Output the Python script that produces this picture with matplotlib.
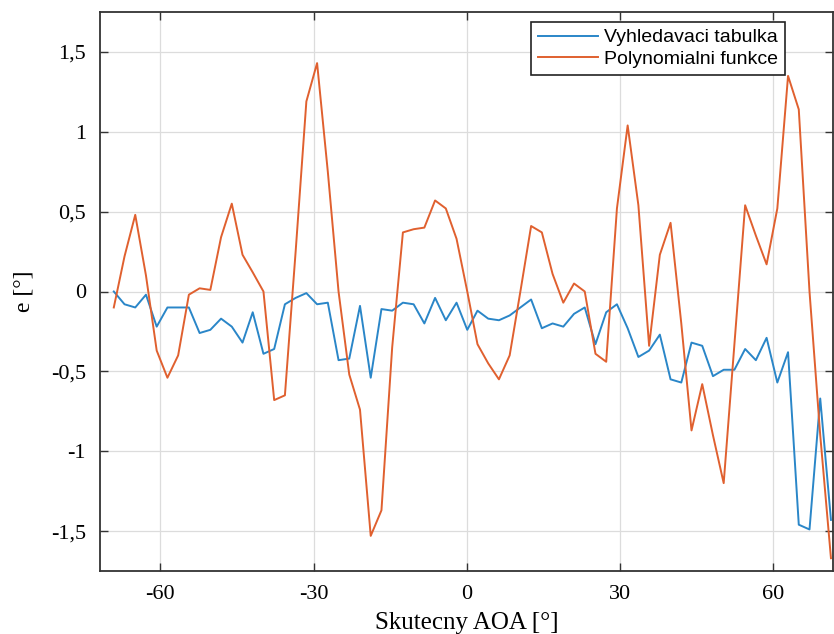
import matplotlib
matplotlib.use("Agg")
import matplotlib.pyplot as plt
from matplotlib.ticker import FixedLocator

# ---- data ----
aoa = [-69.1, -67.0, -64.9, -62.8, -60.7, -58.6, -56.5, -54.4, -52.3, -50.2,
       -48.1, -46.0, -43.9, -41.9, -39.8, -37.7, -35.6, -33.5, -31.4, -29.3,
       -27.2, -25.1, -23.0, -20.9, -18.8, -16.7, -14.6, -12.5, -10.4, -8.3,
       -6.2, -4.1, -2.0, 0.1, 2.1, 4.2, 6.3, 8.4, 10.5, 12.6,
       14.7, 16.8, 18.9, 21.0, 23.1, 25.2, 27.3, 29.4, 31.5, 33.6,
       35.7, 37.8, 39.9, 42.0, 44.0, 46.1, 48.2, 50.3, 52.4, 54.5,
       56.6, 58.7, 60.8, 62.9, 65.0, 67.1, 69.2, 71.3]

tabulka = [0.00, -0.08, -0.10, -0.02, -0.22, -0.10, -0.10, -0.10, -0.26, -0.24,
           -0.17, -0.22, -0.32, -0.13, -0.39, -0.36, -0.08, -0.04, -0.01, -0.08,
           -0.07, -0.43, -0.42, -0.09, -0.54, -0.11, -0.12, -0.07, -0.08, -0.20,
           -0.04, -0.18, -0.07, -0.24, -0.12, -0.17, -0.18, -0.15, -0.10, -0.05,
           -0.23, -0.20, -0.22, -0.14, -0.10, -0.33, -0.13, -0.08, -0.23, -0.41,
           -0.37, -0.27, -0.55, -0.57, -0.32, -0.34, -0.53, -0.49, -0.49, -0.36,
           -0.43, -0.29, -0.57, -0.38, -1.46, -1.49, -0.67, -1.43]

polynom = [-0.10, 0.22, 0.48, 0.10, -0.37, -0.54, -0.40, -0.02, 0.02, 0.01,
           0.34, 0.55, 0.23, 0.12, 0.00, -0.68, -0.65, 0.25, 1.19, 1.43,
           0.75, 0.00, -0.52, -0.74, -1.53, -1.37, -0.35, 0.37, 0.39, 0.40,
           0.57, 0.52, 0.33, 0.00, -0.33, -0.45, -0.55, -0.40, 0.00, 0.41,
           0.37, 0.11, -0.07, 0.05, 0.00, -0.39, -0.44, 0.52, 1.04, 0.54,
           -0.34, 0.23, 0.43, -0.20, -0.87, -0.58, -0.90, -1.20, -0.33, 0.54,
           0.35, 0.17, 0.52, 1.35, 1.14, 0.00, -0.90, -1.67]

xticks = [-60, -30, 0, 30, 60]
yticks = [-1.5, -1.0, -0.5, 0.0, 0.5, 1.0, 1.5]
ytick_labels = ["-1,5", "-1", "-0,5", "0", "0,5", "1", "1,5"]

label_a = "Vyhledavaci tabulka"
label_b = "Polynomialni funkce"
xlabel = "Skutecny AOA [°]"
ylabel = "e [°]"

serif = ["Liberation Serif", "DejaVu Serif"]
sans = ["Liberation Sans", "DejaVu Sans"]

fig = plt.figure(figsize=(8.34, 6.34), dpi=100)
ax = fig.add_axes([100 / 834, 1 - 571 / 634, 733 / 834, 559 / 634])

ax.plot(aoa, tabulka, color="#2a86c8", lw=1.4, label=label_a)
ax.plot(aoa, polynom, color="#e0602f", lw=1.4, label=label_b)

ax.set_xlim(-71.8, 71.7)
ax.set_ylim(-1.75, 1.75)
ax.xaxis.set_major_locator(FixedLocator(xticks))
ax.set_yticks(yticks)
ax.set_yticklabels(ytick_labels)
ax.set_xticklabels([str(t) for t in xticks])

for lab in ax.get_xticklabels() + ax.get_yticklabels():
    lab.set_fontfamily(serif)
    lab.set_fontsize(16)

ax.tick_params(direction="in", length=6, width=1.0, color="#333333",
               top=True, right=True, pad=10)
ax.grid(True, color="#dcdcdc", lw=0.9)
ax.set_axisbelow(True)
for s in ax.spines.values():
    s.set_color("#333333")
    s.set_linewidth(1.3)

ax.set_xlabel(xlabel, fontfamily=serif, fontsize=18, labelpad=6)
ax.set_ylabel(ylabel, fontfamily=serif, fontsize=17, labelpad=12)

leg = ax.legend(loc="upper right", bbox_to_anchor=(0.9345, 0.982),
                prop={"family": sans, "size": 14},
                handlelength=3.1, handletextpad=0.3, borderpad=0.35,
                labelspacing=0.2, borderaxespad=0.0,
                fancybox=False, framealpha=1.0)
leg.get_frame().set_edgecolor("#222222")
leg.get_frame().set_linewidth(1.2)

fig.savefig("out.png", dpi=100)
